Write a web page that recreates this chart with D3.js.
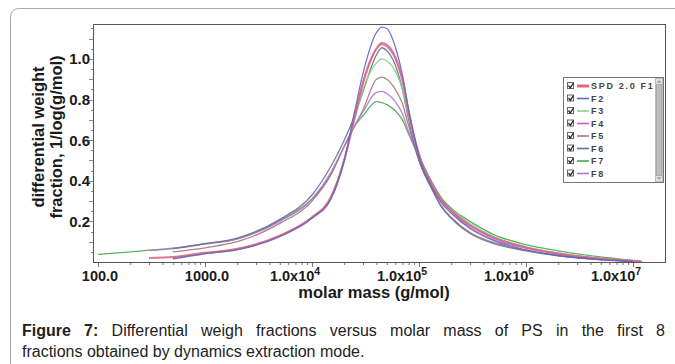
<!DOCTYPE html>
<html>
<head>
<meta charset="utf-8">
<script src="https://cdnjs.cloudflare.com/ajax/libs/d3/7.8.5/d3.min.js"></script>
<style>
  body { margin: 0; background: #fff; font-family: "Liberation Sans", Arial, sans-serif; }
  #wrap { position: relative; width: 675px; height: 364px; overflow: hidden; }
  #caption { position: absolute; left: 22px; top: 320px; width: 643px; font-size: 16px; line-height: 21px; color: #222; }
  #caption .l1 { text-align: justify; text-align-last: justify; }
</style>
</head>
<body>
<div id="wrap"></div>
<script>
// molar mass grid (g/mol)
const masses = [100, 200, 300, 500, 1000, 2000, 5000, 1e4, 1.5e4, 2e4, 2.5e4, 3e4, 4e4, 4.5e4, 5e4,
  6e4, 7e4, 8e4, 1e5, 1.3e5, 1.6e5, 2e5, 3e5, 5e5, 1e6, 2e6, 5e6, 1e7, 1.2e7];

const f1 = [null, null, 0.02, 0.025, 0.045, 0.065, 0.13, 0.22, 0.32, 0.5, 0.71, 0.88, 1.05, 1.078, 1.07, 1.01, 0.9, 0.74, 0.53, 0.39, 0.31, 0.255, 0.18, 0.12, 0.072, 0.042, 0.017, 0.005, 0.002];
const f2 = [null, null, null, 0.015, 0.04, 0.06, 0.125, 0.215, 0.31, 0.5, 0.74, 0.93, 1.13, 1.157, 1.15, 1.06, 0.92, 0.75, 0.52, 0.375, 0.295, 0.24, 0.165, 0.105, 0.06, 0.032, 0.012, 0.004, null];
const f3 = [null, null, null, 0.018, 0.042, 0.062, 0.128, 0.218, 0.315, 0.51, 0.7, 0.85, 0.98, 1.0, 0.99, 0.94, 0.85, 0.72, 0.52, 0.385, 0.31, 0.26, 0.19, 0.125, 0.075, 0.045, 0.018, 0.006, 0.002];
const f4 = [null, null, null, 0.02, 0.045, 0.063, 0.13, 0.22, 0.31, 0.5, 0.72, 0.89, 1.05, 1.07, 1.06, 1.0, 0.89, 0.74, 0.53, 0.385, 0.305, 0.25, 0.18, 0.118, 0.07, 0.04, 0.016, 0.005, 0.002];
const f5 = [null, null, null, 0.05, 0.07, 0.1, 0.19, 0.3, 0.43, 0.57, 0.67, 0.75, 0.9, 0.91, 0.9, 0.85, 0.78, 0.67, 0.5, 0.37, 0.28, 0.22, 0.145, 0.095, 0.058, 0.032, 0.012, 0.003, null];
const f6 = [null, null, null, 0.066, 0.09, 0.118, 0.21, 0.33, 0.47, 0.6, 0.72, 0.84, 1.02, 1.055, 1.04, 0.97, 0.85, 0.7, 0.5, 0.365, 0.275, 0.215, 0.14, 0.09, 0.055, 0.03, 0.011, 0.003, null];
const f7 = [0.038, 0.05, 0.058, 0.068, 0.09, 0.115, 0.205, 0.31, 0.43, 0.57, 0.67, 0.72, 0.79, 0.785, 0.775, 0.745, 0.7, 0.63, 0.52, 0.4, 0.32, 0.265, 0.2, 0.135, 0.085, 0.055, 0.025, 0.008, 0.003];
const f8 = [null, null, 0.056, 0.066, 0.088, 0.113, 0.2, 0.31, 0.44, 0.57, 0.67, 0.74, 0.835, 0.84, 0.83, 0.79, 0.73, 0.64, 0.51, 0.39, 0.305, 0.25, 0.17, 0.11, 0.068, 0.04, 0.016, 0.005, 0.002];

const seriesNames = ["SPD 2.0 F1", "F2", "F3", "F4", "F5", "F6", "F7", "F8"];
const seriesValues = [f1, f2, f3, f4, f5, f6, f7, f8];
const seriesColors = ["#dc6a78", "#6464c8", "#86d286", "#d25ac4", "#a47676", "#6a7094", "#4aa85a", "#b474d0"];

const yTicks = [0.2, 0.4, 0.6, 0.8, 1.0];
const xTicks = [100, 1000, 1e4, 1e5, 1e6, 1e7];
const xTickLabels = [["100.0", ""], ["1000.0", ""], ["1.0x10", "4"], ["1.0x10", "5"], ["1.0x10", "6"], ["1.0x10", "7"]];

const W = 675, H = 364;
const plot = { left: 93, right: 665, top: 24, bottom: 262 };

const svg = d3.select("#wrap").append("svg")
  .attr("width", W).attr("height", H)
  .style("position", "absolute").style("left", 0).style("top", 0);

// card
svg.append("rect")
  .attr("x", 10.5).attr("y", 8.5).attr("width", 720).attr("height", 420)
  .attr("rx", 8).attr("fill", "#fff").attr("stroke", "#a8a8a8");

const x = d3.scaleLog().domain([89.8, 1.99e7]).range([plot.left, plot.right]);
const y = d3.scaleLinear().domain([0, 1.172]).range([plot.bottom, plot.top]);

// minor ticks x
const minorX = [];
for (let e = 2; e <= 7; e++) for (let k = 1; k <= 9; k++) {
  const v = k * Math.pow(10, e);
  if (v >= 89.8 && v <= 1.99e7) minorX.push(v);
}
svg.append("g").selectAll("line").data(minorX).enter().append("line")
  .attr("x1", d => x(d) + 0.5).attr("x2", d => x(d) + 0.5)
  .attr("y1", plot.bottom).attr("y2", d => plot.bottom + (xTicks.includes(d) ? 5 : 3))
  .attr("stroke", "#777").attr("stroke-width", 1);

// minor ticks y
const minorY = d3.range(0.05, 1.17, 0.05);
svg.append("g").selectAll("line").data(minorY).enter().append("line")
  .attr("y1", d => Math.round(y(d)) + 0.5).attr("y2", d => Math.round(y(d)) + 0.5)
  .attr("x1", plot.left).attr("x2", (d, i) => plot.left - ((i % 2 === 1) ? 4 : 2))
  .attr("stroke", "#888");

// x tick labels
const xl = svg.append("g").attr("font-weight", "bold").attr("font-size", 14.5).attr("fill", "#1a1a1a");
xTicks.forEach((t, i) => {
  const lab = xTickLabels[i];
  const tx = xl.append("text")
    .attr("x", x(t) + (lab[1] ? -17 : 2)).attr("y", 281)
    .attr("text-anchor", "middle");
  tx.append("tspan").text(lab[0]);
  if (lab[1]) tx.append("tspan").attr("dy", -6).attr("font-size", 10.5).text(lab[1]);
});

// y tick labels
svg.append("g").attr("font-weight", "bold").attr("font-size", 15).attr("fill", "#1a1a1a")
  .selectAll("text").data(yTicks).enter().append("text")
  .attr("x", 90).attr("y", d => y(d) + 5.5).attr("text-anchor", "end")
  .text(d => d.toFixed(1));

// axis titles
svg.append("text").attr("x", 374).attr("y", 298).attr("text-anchor", "middle")
  .attr("font-weight", "bold").attr("font-size", 16.5).attr("fill", "#1a1a1a")
  .text("molar mass (g/mol)");
const yt = svg.append("g").attr("transform", "translate(0,137) rotate(-90)")
  .attr("font-weight", "bold").attr("font-size", 16.5).attr("fill", "#1a1a1a").attr("text-anchor", "middle");
yt.append("text").attr("x", 0).attr("y", 44).text("differential weight");
yt.append("text").attr("x", 0).attr("y", 62).text("fraction, 1/log(g/mol)");

// curves
const line = d3.line()
  .defined(d => d[1] !== null)
  .x(d => x(d[0])).y(d => y(d[1]))
  .curve(d3.curveMonotoneX);

const drawOrder = [6, 4, 7, 5, 2, 3, 0, 1];
svg.append("g").attr("fill", "none").selectAll("path").data(drawOrder).enter().append("path")
  .attr("d", i => line(masses.map((m, j) => [m, seriesValues[i][j]])))
  .attr("stroke", i => seriesColors[i])
  .attr("stroke-width", i => i === 0 ? 2 : 1.3)
  .attr("stroke-opacity", 0.9);

// frame
svg.append("rect")
  .attr("x", plot.left + 0.5).attr("y", plot.top + 0.5)
  .attr("width", plot.right - plot.left).attr("height", plot.bottom - plot.top)
  .attr("fill", "none").attr("stroke", "#555");

// legend
const lg = svg.append("g");
lg.append("rect").attr("x", 563.5).attr("y", 77.5).attr("width", 100).attr("height", 105)
  .attr("fill", "#fff").attr("stroke", "#777");
lg.append("rect").attr("x", 655.5).attr("y", 78.5).attr("width", 7).attr("height", 103)
  .attr("fill", "#e4e4e4").attr("stroke", "#bbb");
lg.append("rect").attr("x", 656.5).attr("y", 84.5).attr("width", 5).attr("height", 91)
  .attr("fill", "#bdbdbd").attr("stroke", "#aaa");
lg.append("path").attr("d", "M656.5,83 L659,79.5 L661.5,83 Z").attr("fill", "#aaa");
lg.append("path").attr("d", "M656.5,177 L659,180.5 L661.5,177 Z").attr("fill", "#aaa");

const rows = lg.selectAll("g.row").data(seriesNames).enter().append("g")
  .attr("transform", (d, i) => `translate(0,${86 + i * 12.5})`);
rows.append("rect").attr("x", 567.5).attr("y", -3.5).attr("width", 6).attr("height", 6)
  .attr("fill", "#fff").attr("stroke", "#666");
rows.append("path").attr("d", "M568.5,-0.5 L570.3,1.8 L573.5,-3").attr("fill", "none")
  .attr("stroke", "#222").attr("stroke-width", 1.3);
rows.append("line").attr("x1", 577).attr("x2", 589).attr("y1", 0).attr("y2", 0)
  .attr("stroke", (d, i) => seriesColors[i]).attr("stroke-width", (d, i) => i === 0 ? 3 : 1.6);
rows.append("text").attr("x", 591).attr("y", 3.2)
  .attr("font-size", 9).attr("font-weight", "bold").attr("letter-spacing", 1.7)
  .attr("fill", "#444").text(d => d);

// caption
const cap = d3.select("#wrap").append("div").attr("id", "caption");
const c1 = cap.append("div").attr("class", "l1");
c1.append("b").text("Figure 7:");
c1.append("span").text(" Differential weigh fractions versus molar mass of PS in the first 8");
cap.append("div").text("fractions obtained by dynamics extraction mode.");
</script>
</body>
</html>
